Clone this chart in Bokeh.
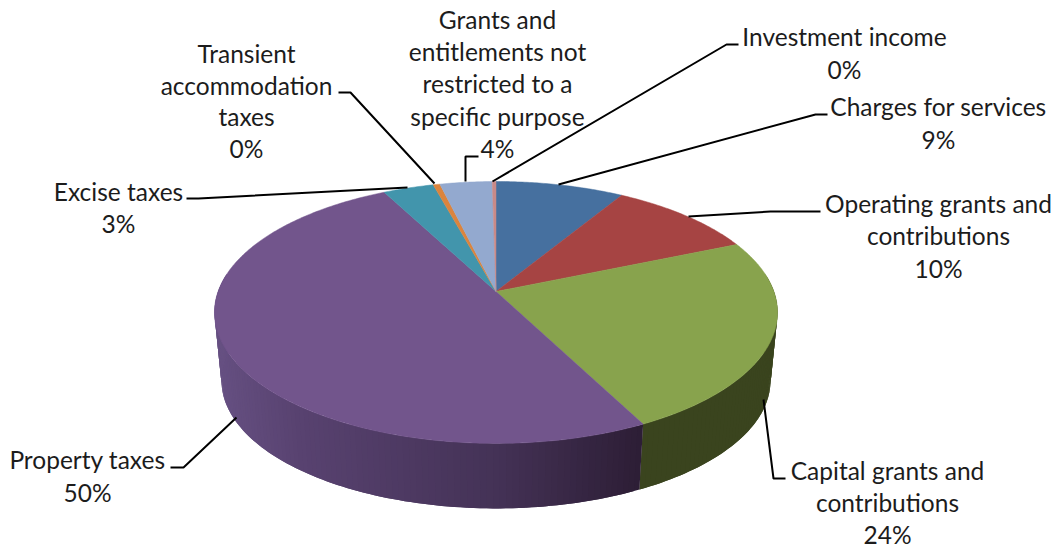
import math
from bokeh.plotting import figure
from bokeh.embed import file_html
from bokeh.resources import INLINE
from bokeh.models import ColumnDataSource
from bokeh.core.properties import value

# ---- data, clockwise from twelve o'clock ----
categories = ["Charges for services", "Operating grants and contributions",
              "Capital grants and contributions", "Property taxes", "Excise taxes",
              "Transient accommodation taxes",
              "Grants and entitlements not restricted to a specific purpose",
              "Investment income"]
shares = [8.6, 10.0, 23.9, 49.9, 3.4, 0.45, 3.5, 0.25]
percent_labels = ["9%", "10%", "24%", "50%", "3%", "0%", "4%", "0%"]
top_colors = ["#46709F", "#A64443", "#88A34D", "#72558C", "#4295AC", "#DB843D", "#93A9CF", "#C98A88"]
wall_colors = [(40, 65, 95), (95, 40, 38), (58, 68, 30), None, (38, 85, 98), (125, 75, 35), (84, 96, 118), (115, 80, 78)]
purple_wall_stops = [(214, (102, 80, 130)), (300, (88, 66, 112)), (500, (68, 50, 86)), (642, (45, 30, 54))]

# ---- label layout: (text, centre x, centre y) in page pixels of the 1060x548 view ----
label_lines = [
    ("Grants and", 497, 19), ("entitlements not", 497, 51), ("restricted to a", 497, 83),
    ("specific purpose", 497, 116), ("4%", 497, 148),
    ("Transient", 246, 53), ("accommodation", 246, 85), ("taxes", 246, 116), ("0%", 246, 148),
    ("Investment income", 844, 36), ("0%", 844, 69),
    ("Charges for services", 938, 106), ("9%", 938, 139),
    ("Operating grants and", 938, 203), ("contributions", 938, 235), ("10%", 938, 268),
    ("Capital grants and", 887, 470), ("contributions", 887, 502), ("24%", 887, 534),
    ("Excise taxes", 118, 191), ("3%", 118, 223),
    ("Property taxes", 87, 459), ("50%", 87, 492),
]
leaders_x = [[492, 726, 738], [558, 815, 827], [688, 770, 820], [763, 773, 785],
             [236, 183, 170], [407, 198, 186], [434, 350, 338], [465, 465, 478]]
leaders_y = [[181, 44, 44], [184, 114, 114], [216, 211, 211], [399, 478, 478],
             [417, 467, 467], [187, 198, 198], [183, 92, 92], [181, 156, 156]]

# ---- projection of the tilted disc ----
APEX_X, APEX_Y = 495.5, 291.0
R, H, K = 277.9, 127.6, 0.16
RIM_CY, WALL_SCALE, WALL_CY = 311.0, 0.975, 379.3


def rim(theta):
    u, v = math.sin(theta), math.cos(theta)
    d = 1 + K * v
    return APEX_X + R * u / d, APEX_Y - H * v / d


def floor(theta):
    x, y = rim(theta)
    return APEX_X + (x - APEX_X) * WALL_SCALE, WALL_CY + (y - RIM_CY) * WALL_SCALE


def mix(x, stops):
    if x <= stops[0][0]:
        return stops[0][1]
    for (x0, c0), (x1, c1) in zip(stops, stops[1:]):
        if x <= x1:
            t = (x - x0) / (x1 - x0)
            return tuple(round(a + (b - a) * t) for a, b in zip(c0, c1))
    return stops[-1][1]


total = sum(shares)
edges = [0.0]
for s in shares:
    edges.append(edges[-1] + s / total * 2 * math.pi)

front_a = math.acos(-K)
front_b = 2 * math.pi - front_a

# wall strips overlap the next one so that no seams show; the union fills the silhouette
wx, wy, wc = [], [], []
for i in range(len(shares)):
    a, b = max(edges[i], front_a - 0.3), min(edges[i + 1], front_b + 0.3)
    if b <= a:
        continue
    n = max(2, int((b - a) / 0.02))
    for j in range(n):
        t0 = a + (b - a) * j / n
        t1 = min(b, a + (b - a) * (j + 2) / n)
        ts = [t0, (t0 + t1) / 2, t1]
        pts = [rim(t) for t in ts] + [floor(t) for t in reversed(ts)]
        wx.append([q[0] for q in pts])
        wy.append([q[1] for q in pts])
        col = wall_colors[i] or mix(rim(t0)[0], purple_wall_stops)
        wc.append("#%02x%02x%02x" % tuple(col))

tx, ty = [], []
for i in range(len(shares)):
    a, b = edges[i], edges[i + 1]
    n = max(2, int((b - a) / 0.01))
    pts = [rim(a + (b - a) * j / n) for j in range(n + 1)]
    tx.append([APEX_X] + [q[0] for q in pts])
    ty.append([APEX_Y] + [q[1] for q in pts])

p = figure(width=1060, height=548, x_range=(0, 1060), y_range=(548, 0),
           output_backend="svg", toolbar_location=None, min_border=0,
           outline_line_color=None, background_fill_color="white",
           border_fill_color="white")
p.axis.visible = False
p.grid.visible = False

p.patches(wx, wy, fill_color=wc, line_color=None)
p.patches(tx, ty, fill_color=top_colors, line_color=top_colors, line_width=0.5)
p.multi_line(leaders_x, leaders_y, line_color="black", line_width=2)

src = ColumnDataSource(dict(t=[l[0] for l in label_lines],
                            x=[l[1] for l in label_lines],
                            y=[l[2] for l in label_lines]))
p.text("x", "y", text="t", source=src, text_font=value("Lato"), text_font_size="24.5px",
       text_color="#1c1c1c", text_align="center", text_baseline="middle")

open("out.html", "w").write(file_html(p, INLINE))
